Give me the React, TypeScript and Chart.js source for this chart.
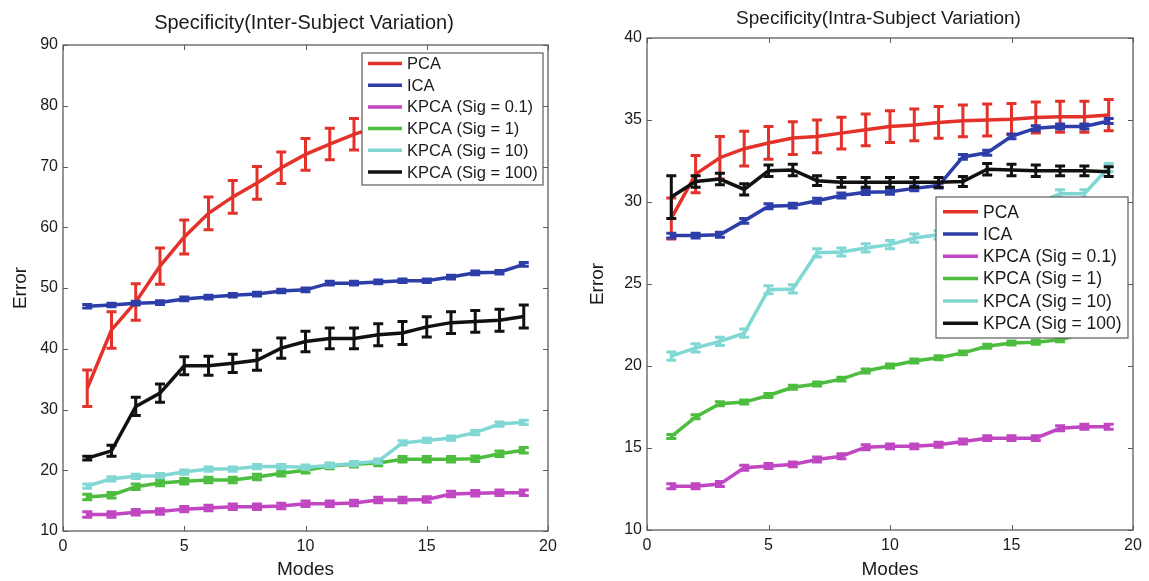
import React, { useEffect, useRef } from 'react';
import { Chart, registerables } from 'chart.js';

Chart.register(...registerables);

// ---------- data ----------
const modes = [1, 2, 3, 4, 5, 6, 7, 8, 9, 10, 11, 12, 13, 14, 15, 16, 17, 18, 19];
const xTickValues = [0, 5, 10, 15, 20];
const interYTicks = [10, 20, 30, 40, 50, 60, 70, 80, 90];
const intraYTicks = [10, 15, 20, 25, 30, 35, 40];

const seriesNames = ['PCA', 'ICA', 'KPCA (Sig = 0.1)', 'KPCA (Sig = 1)', 'KPCA (Sig = 10)', 'KPCA (Sig = 100)'];
const seriesColors = ['#e4322b', '#2d3ea9', '#c046c2', '#4cbd3e', '#80d7d3', '#111111'];

// Inter-subject variation (left)
const interPCA = [33.5, 43.1, 47.7, 53.6, 58.4, 62.3, 65.0, 67.3, 69.8, 72.0, 73.7, 75.3, 76.6, 77.6, 78.5, 79.2, 79.8, 80.3, 80.8];
const interPCAErr = [3.0, 3.0, 3.0, 3.0, 2.8, 2.7, 2.7, 2.7, 2.6, 2.6, 2.6, 2.6, 2.6, 2.6, 2.6, 2.6, 2.6, 2.6, 2.6];
const interICA = [47.0, 47.2, 47.5, 47.6, 48.2, 48.5, 48.8, 49.0, 49.5, 49.7, 50.8, 50.8, 51.0, 51.2, 51.2, 51.8, 52.5, 52.6, 53.9];
const interICAErr = [0.3, 0.3, 0.3, 0.3, 0.3, 0.3, 0.3, 0.3, 0.3, 0.3, 0.3, 0.3, 0.3, 0.3, 0.3, 0.3, 0.3, 0.3, 0.3];
const interK01 = [12.7, 12.7, 13.1, 13.2, 13.6, 13.8, 14.0, 14.0, 14.1, 14.5, 14.5, 14.6, 15.1, 15.1, 15.2, 16.1, 16.2, 16.3, 16.3];
const interK01Err = [0.45, 0.45, 0.45, 0.45, 0.45, 0.45, 0.45, 0.45, 0.45, 0.45, 0.45, 0.45, 0.45, 0.45, 0.45, 0.45, 0.45, 0.45, 0.45];
const interK1 = [15.6, 15.9, 17.3, 17.9, 18.2, 18.4, 18.4, 18.9, 19.5, 20.0, 20.7, 21.0, 21.2, 21.8, 21.8, 21.8, 21.9, 22.7, 23.3];
const interK1Err = [0.45, 0.45, 0.45, 0.45, 0.45, 0.45, 0.45, 0.45, 0.45, 0.45, 0.45, 0.45, 0.45, 0.45, 0.45, 0.45, 0.45, 0.45, 0.45];
const interK10 = [17.4, 18.6, 19.0, 19.1, 19.7, 20.2, 20.2, 20.6, 20.6, 20.5, 20.8, 21.1, 21.5, 24.5, 24.9, 25.3, 26.2, 27.6, 27.9];
const interK10Err = [0.35, 0.35, 0.35, 0.35, 0.35, 0.35, 0.35, 0.35, 0.35, 0.35, 0.35, 0.35, 0.35, 0.35, 0.35, 0.35, 0.35, 0.35, 0.35];
const interK100 = [22.0, 23.2, 30.5, 32.7, 37.2, 37.2, 37.6, 38.1, 40.1, 41.2, 41.7, 41.7, 42.3, 42.6, 43.6, 44.3, 44.5, 44.7, 45.3];
const interK100Err = [0.3, 0.9, 1.5, 1.5, 1.5, 1.55, 1.5, 1.65, 1.65, 1.7, 1.7, 1.7, 1.8, 1.9, 1.65, 1.8, 1.8, 1.8, 1.9];

// Intra-subject variation (right)
const intraPCA = [29.0, 31.7, 32.7, 33.25, 33.6, 33.9, 34.0, 34.2, 34.4, 34.6, 34.7, 34.85, 34.95, 35.0, 35.05, 35.15, 35.2, 35.2, 35.3];
const intraPCAErr = [1.25, 1.13, 1.3, 1.06, 1.0, 1.0, 1.0, 0.97, 0.97, 0.97, 0.97, 0.97, 0.97, 0.97, 0.95, 0.95, 0.95, 0.95, 0.95];
const intraICA = [27.95, 27.95, 28.0, 28.85, 29.74, 29.78, 30.08, 30.4, 30.6, 30.63, 30.83, 31.0, 32.75, 33.0, 34.0, 34.5, 34.6, 34.6, 34.94];
const intraICAErr = [0.15, 0.15, 0.15, 0.15, 0.15, 0.15, 0.15, 0.15, 0.15, 0.15, 0.15, 0.15, 0.15, 0.15, 0.15, 0.15, 0.15, 0.15, 0.15];
const intraK01 = [12.67, 12.67, 12.8, 13.8, 13.9, 14.0, 14.3, 14.5, 15.05, 15.1, 15.1, 15.2, 15.4, 15.6, 15.6, 15.6, 16.2, 16.3, 16.3];
const intraK01Err = [0.15, 0.15, 0.15, 0.15, 0.15, 0.15, 0.15, 0.15, 0.15, 0.15, 0.15, 0.15, 0.15, 0.15, 0.15, 0.15, 0.15, 0.15, 0.15];
const intraK1 = [15.7, 16.9, 17.7, 17.8, 18.2, 18.7, 18.9, 19.2, 19.7, 20.0, 20.3, 20.5, 20.8, 21.2, 21.4, 21.45, 21.6, 22.0, 22.3];
const intraK1Err = [0.12, 0.12, 0.12, 0.12, 0.12, 0.12, 0.12, 0.12, 0.12, 0.12, 0.12, 0.12, 0.12, 0.12, 0.12, 0.12, 0.12, 0.12, 0.12];
const intraK10 = [20.6, 21.1, 21.5, 22.0, 24.65, 24.7, 26.9, 26.95, 27.2, 27.4, 27.8, 28.0, 28.3, 28.8, 29.3, 29.9, 30.5, 30.5, 32.1];
const intraK10Err = [0.25, 0.25, 0.25, 0.25, 0.25, 0.25, 0.25, 0.25, 0.25, 0.25, 0.25, 0.25, 0.25, 0.25, 0.25, 0.25, 0.25, 0.25, 0.25];
const intraK100 = [30.3, 31.25, 31.4, 30.77, 31.9, 31.95, 31.3, 31.2, 31.2, 31.2, 31.2, 31.2, 31.25, 32.0, 31.95, 31.9, 31.9, 31.9, 31.85];
const intraK100Err = [1.3, 0.35, 0.35, 0.35, 0.35, 0.35, 0.3, 0.3, 0.3, 0.3, 0.3, 0.3, 0.3, 0.35, 0.35, 0.35, 0.3, 0.3, 0.3];

const interValues = [interPCA, interICA, interK01, interK1, interK10, interK100];
const interErrors = [interPCAErr, interICAErr, interK01Err, interK1Err, interK10Err, interK100Err];
const intraValues = [intraPCA, intraICA, intraK01, intraK1, intraK10, intraK100];
const intraErrors = [intraPCAErr, intraICAErr, intraK01Err, intraK1Err, intraK10Err, intraK100Err];

const FONT = "'Liberation Sans', Arial, Helvetica, sans-serif";
const TEXT = '#1b1b1b';
const FRAME = '#5c5c5c';

// ---------- plugin: title, error bars, frame with inner ticks, in-axes legend ----------
const matlabPlugin = {
  id: 'matlabLook',
  afterDatasetDraw(chart: any, args: any, opts: any) {
    const ds = chart.data.datasets[args.index];
    const err = ds.errors;
    if (!err) return;
    const { ctx } = chart;
    const xs = chart.scales.x;
    const ys = chart.scales.y;
    const cap = opts.capHalf;
    ctx.save();
    ctx.strokeStyle = ds.borderColor;
    ctx.lineWidth = opts.errWidth;
    ctx.lineCap = 'butt';
    ds.data.forEach((pt: any, i: number) => {
      const px = xs.getPixelForValue(pt.x);
      const top = ys.getPixelForValue(pt.y + err[i]);
      const bot = ys.getPixelForValue(pt.y - err[i]);
      ctx.beginPath();
      ctx.moveTo(px, top);
      ctx.lineTo(px, bot);
      ctx.moveTo(px - cap, top);
      ctx.lineTo(px + cap, top);
      ctx.moveTo(px - cap, bot);
      ctx.lineTo(px + cap, bot);
      ctx.stroke();
    });
    ctx.restore();
  },
  afterDraw(chart: any, _args: any, opts: any) {
    const { ctx, chartArea: ca } = chart;
    const xs = chart.scales.x;
    const ys = chart.scales.y;
    const L = opts.tickLen;
    ctx.save();

    // title
    ctx.fillStyle = TEXT;
    ctx.font = `${opts.titleSize}px ${FONT}`;
    ctx.textAlign = 'center';
    ctx.textBaseline = 'middle';
    ctx.fillText(opts.titleText, (ca.left + ca.right) / 2 + opts.titleShift, opts.titleY);

    // frame + inward ticks
    ctx.strokeStyle = FRAME;
    ctx.lineWidth = 1;
    ctx.beginPath();
    xs.ticks.forEach((t: any) => {
      const p = Math.round(xs.getPixelForValue(t.value)) + 0.5;
      ctx.moveTo(p, ca.bottom);
      ctx.lineTo(p, ca.bottom - L);
      ctx.moveTo(p, ca.top);
      ctx.lineTo(p, ca.top + L);
    });
    ys.ticks.forEach((t: any) => {
      const p = Math.round(ys.getPixelForValue(t.value)) + 0.5;
      ctx.moveTo(ca.left, p);
      ctx.lineTo(ca.left + L, p);
      ctx.moveTo(ca.right, p);
      ctx.lineTo(ca.right - L, p);
    });
    ctx.stroke();
    ctx.lineWidth = 1.3;
    ctx.strokeRect(ca.left, ca.top, ca.right - ca.left, ca.bottom - ca.top);

    // legend (opaque, inside the axes)
    const lg = opts.legend;
    const bx = ca.right - lg.right - lg.width;
    const by = ca.top + lg.top;
    ctx.fillStyle = '#ffffff';
    ctx.fillRect(bx, by, lg.width, lg.height);
    ctx.lineWidth = 1.2;
    ctx.strokeStyle = FRAME;
    ctx.strokeRect(bx, by, lg.width, lg.height);
    ctx.font = `${lg.fontSize}px ${FONT}`;
    ctx.textBaseline = 'middle';
    ctx.textAlign = 'left';
    chart.data.datasets.forEach((ds: any, i: number) => {
      const cy = by + lg.firstRow + i * lg.rowGap;
      ctx.strokeStyle = ds.borderColor;
      ctx.lineWidth = 3.5;
      ctx.beginPath();
      ctx.moveTo(bx + lg.lineStart, cy);
      ctx.lineTo(bx + lg.lineEnd, cy);
      ctx.stroke();
      ctx.fillStyle = TEXT;
      ctx.fillText(ds.label, bx + lg.textStart, cy + 1);
    });
    ctx.restore();
  },
};

type PanelCfg = {
  title: string;
  titleY: number;
  titleShift: number;
  titleSize: number;
  values: number[][];
  errors: number[][];
  yMin: number;
  yMax: number;
  yTicks: number[];
  yAxisWidth: number;
  xAxisHeight: number;
  padRight: number;
  padTop: number;
  yTitlePad: number;
  legend: any;
};

function buildConfig(p: PanelCfg): any {
  const drawOrder = [5, 4, 3, 2, 1, 0];
  const datasets = seriesNames.map((name, si) => ({
    label: name,
    data: modes.map((m, i) => ({ x: m, y: p.values[si][i] })),
    errors: p.errors[si],
    borderColor: seriesColors[si],
    backgroundColor: seriesColors[si],
    borderWidth: 3.5,
    pointRadius: 0,
    pointHoverRadius: 0,
    tension: 0,
    fill: false,
    order: drawOrder[si],
    clip: 2,
  }));
  return {
    type: 'line',
    data: { datasets },
    plugins: [matlabPlugin],
    options: {
      animation: false,
      responsive: false,
      events: [],
      layout: { padding: { left: 0, right: p.padRight, top: p.padTop, bottom: 0 } },
      scales: {
        x: {
          type: 'linear',
          min: 0,
          max: 20,
          afterBuildTicks: (s: any) => {
            s.ticks = xTickValues.map((v) => ({ value: v }));
          },
          afterFit: (s: any) => {
            s.height = p.xAxisHeight;
          },
          grid: { display: false, drawTicks: false },
          border: { display: false },
          ticks: {
            padding: 6,
            maxRotation: 0,
            autoSkip: false,
            color: TEXT,
            font: { family: FONT, size: 16 },
          },
          title: {
            display: true,
            text: 'Modes',
            color: TEXT,
            font: { family: FONT, size: 19 },
            padding: { top: 0, bottom: 0 },
          },
        },
        y: {
          type: 'linear',
          min: p.yMin,
          max: p.yMax,
          afterBuildTicks: (s: any) => {
            s.ticks = p.yTicks.map((v) => ({ value: v }));
          },
          afterFit: (s: any) => {
            s.width = p.yAxisWidth;
          },
          grid: { display: false, drawTicks: false },
          border: { display: false },
          ticks: {
            padding: 5,
            autoSkip: false,
            color: TEXT,
            font: { family: FONT, size: 16 },
          },
          title: {
            display: true,
            text: 'Error',
            color: TEXT,
            font: { family: FONT, size: 19 },
            padding: { top: p.yTitlePad, bottom: 0 },
          },
        },
      },
      plugins: {
        legend: { display: false },
        tooltip: { enabled: false },
        title: { display: false },
        matlabLook: {
          titleText: p.title,
          titleY: p.titleY,
          titleShift: p.titleShift,
          titleSize: p.titleSize,
          capHalf: 5,
          errWidth: 3,
          tickLen: 5,
          legend: p.legend,
        },
      },
    },
  };
}

const leftPanel: PanelCfg = {
  title: 'Specificity(Inter-Subject Variation)',
  titleY: 23,
  titleShift: -1.5,
  titleSize: 20,
  values: interValues,
  errors: interErrors,
  yMin: 10,
  yMax: 90,
  yTicks: interYTicks,
  yAxisWidth: 63,
  xAxisHeight: 50,
  padRight: 27,
  padTop: 45,
  yTitlePad: 9,
  legend: { right: 5, top: 8, width: 181, height: 132, firstRow: 10.5, rowGap: 21.7, lineStart: 6, lineEnd: 40, textStart: 45, fontSize: 16.5 },
};

const rightPanel: PanelCfg = {
  title: 'Specificity(Intra-Subject Variation)',
  titleY: 19,
  titleShift: -11.5,
  titleSize: 19,
  values: intraValues,
  errors: intraErrors,
  yMin: 10,
  yMax: 40,
  yTicks: intraYTicks,
  yAxisWidth: 72,
  xAxisHeight: 51,
  padRight: 16,
  padTop: 38,
  yTitlePad: 11.6,
  legend: { right: 5, top: 159, width: 192, height: 141, firstRow: 14.7, rowGap: 22.3, lineStart: 7, lineEnd: 42, textStart: 47, fontSize: 17.5 },
};

function Panel({ cfg, left, width }: { cfg: PanelCfg; left: number; width: number }) {
  const ref = useRef<HTMLCanvasElement | null>(null);
  useEffect(() => {
    if (!ref.current) return;
    const chart = new Chart(ref.current, buildConfig(cfg));
    return () => chart.destroy();
  }, [cfg]);
  return (
    <canvas
      ref={ref}
      width={width}
      height={581}
      style={{ position: 'absolute', left, top: 0, width, height: 581 }}
    />
  );
}

export default function App() {
  return (
    <div style={{ position: 'fixed', left: 0, top: 0, width: 1149, height: 581, background: '#ffffff', overflow: 'hidden' }}>
      <Panel cfg={leftPanel} left={0} width={575} />
      <Panel cfg={rightPanel} left={575} width={574} />
    </div>
  );
}
